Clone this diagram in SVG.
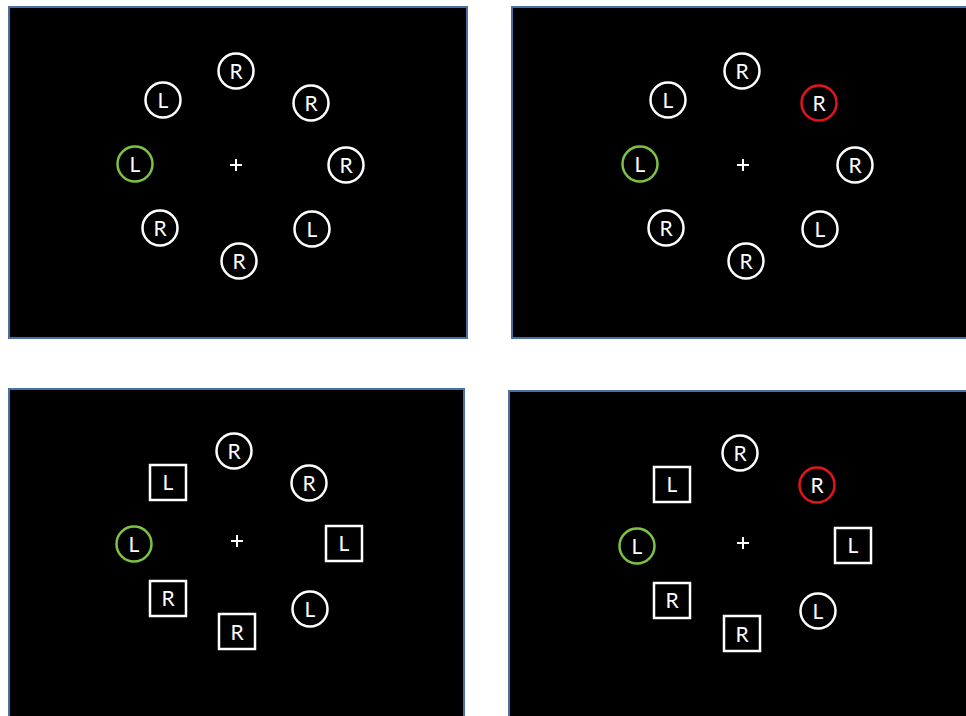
<svg xmlns="http://www.w3.org/2000/svg" width="966" height="716" viewBox="0 0 966 716">
<style>
.panel{fill:#000;stroke:#4a6fa5;stroke-width:2}
.c{fill:none;stroke:#fff;stroke-width:2.5}
.g{stroke:#7dc242}
.r{stroke:#e3141b}
.t{fill:#fff;font-family:Lato,"Open Sans",sans-serif;font-size:21px;text-anchor:middle}
.p{stroke:#fff;stroke-width:2}
</style>
<rect width="966" height="716" fill="#fff"/>
<g id="panel1">
<rect class="panel" x="9" y="7" width="458" height="331"/>
<g id="p1-n1"><circle class="c" cx="236" cy="71" r="17.5"/><text class="t" x="236" y="78.5">R</text></g>
<g id="p1-n2"><circle class="c" cx="163" cy="100" r="17.5"/><text class="t" x="163" y="107.5">L</text></g>
<g id="p1-n3"><circle class="c" cx="311" cy="103" r="17.5"/><text class="t" x="311" y="110.5">R</text></g>
<g id="p1-n4"><circle class="c g" cx="135" cy="164" r="17.5"/><text class="t" x="135" y="171.5">L</text></g>
<g id="p1-plus"><path class="p" d="M230 165h12M236 159v12"/></g>
<g id="p1-n5"><circle class="c" cx="346" cy="165" r="17.5"/><text class="t" x="346" y="172.5">R</text></g>
<g id="p1-n6"><circle class="c" cx="160" cy="228" r="17.5"/><text class="t" x="160" y="235.5">R</text></g>
<g id="p1-n7"><circle class="c" cx="312" cy="229" r="17.5"/><text class="t" x="312" y="236.5">L</text></g>
<g id="p1-n8"><circle class="c" cx="239" cy="261" r="17.5"/><text class="t" x="239" y="268.5">R</text></g>
</g>
<g id="panel2">
<rect class="panel" x="512" y="7" width="470" height="331"/>
<g id="p2-n1"><circle class="c" cx="742" cy="71" r="17.5"/><text class="t" x="742" y="78.5">R</text></g>
<g id="p2-n2"><circle class="c" cx="668" cy="100" r="17.5"/><text class="t" x="668" y="107.5">L</text></g>
<g id="p2-n3"><circle class="c r" cx="819" cy="103" r="17.5"/><text class="t" x="819" y="110.5">R</text></g>
<g id="p2-n4"><circle class="c g" cx="640" cy="164" r="17.5"/><text class="t" x="640" y="171.5">L</text></g>
<g id="p2-plus"><path class="p" d="M737 165h12M743 159v12"/></g>
<g id="p2-n5"><circle class="c" cx="855" cy="165" r="17.5"/><text class="t" x="855" y="172.5">R</text></g>
<g id="p2-n6"><circle class="c" cx="666" cy="228" r="17.5"/><text class="t" x="666" y="235.5">R</text></g>
<g id="p2-n7"><circle class="c" cx="820" cy="229" r="17.5"/><text class="t" x="820" y="236.5">L</text></g>
<g id="p2-n8"><circle class="c" cx="746" cy="261" r="17.5"/><text class="t" x="746" y="268.5">R</text></g>
</g>
<g id="panel3">
<rect class="panel" x="9" y="389" width="455" height="340"/>
<g id="p3-n1"><circle class="c" cx="234" cy="451" r="17.5"/><text class="t" x="234" y="458.5">R</text></g>
<g id="p3-n2"><rect class="c" x="150" y="465" width="36" height="35"/><text class="t" x="168" y="490">L</text></g>
<g id="p3-n3"><circle class="c" cx="309" cy="483" r="17.5"/><text class="t" x="309" y="490.5">R</text></g>
<g id="p3-n4"><circle class="c g" cx="134" cy="544" r="17.5"/><text class="t" x="134" y="551.5">L</text></g>
<g id="p3-plus"><path class="p" d="M231 541h12M237 535v12"/></g>
<g id="p3-n5"><rect class="c" x="326" y="526" width="36" height="35"/><text class="t" x="344" y="551">L</text></g>
<g id="p3-n6"><rect class="c" x="150" y="581" width="36" height="35"/><text class="t" x="168" y="606">R</text></g>
<g id="p3-n7"><circle class="c" cx="310" cy="609" r="17.5"/><text class="t" x="310" y="616.5">L</text></g>
<g id="p3-n8"><rect class="c" x="219" y="614" width="36" height="35"/><text class="t" x="237" y="639.5">R</text></g>
</g>
<g id="panel4">
<rect class="panel" x="509" y="391" width="470" height="340"/>
<g id="p4-n1"><circle class="c" cx="740" cy="453" r="17.5"/><text class="t" x="740" y="460.5">R</text></g>
<g id="p4-n2"><rect class="c" x="654" y="467" width="36" height="35"/><text class="t" x="672" y="492">L</text></g>
<g id="p4-n3"><circle class="c r" cx="817" cy="485" r="17.5"/><text class="t" x="817" y="492.5">R</text></g>
<g id="p4-n4"><circle class="c g" cx="637" cy="546" r="17.5"/><text class="t" x="637" y="553.5">L</text></g>
<g id="p4-plus"><path class="p" d="M737 543h12M743 537v12"/></g>
<g id="p4-n5"><rect class="c" x="835" y="528" width="36" height="35"/><text class="t" x="853" y="553">L</text></g>
<g id="p4-n6"><rect class="c" x="654" y="583" width="36" height="35"/><text class="t" x="672" y="608">R</text></g>
<g id="p4-n7"><circle class="c" cx="818" cy="611" r="17.5"/><text class="t" x="818" y="618.5">L</text></g>
<g id="p4-n8"><rect class="c" x="724" y="616" width="36" height="35"/><text class="t" x="742" y="641.5">R</text></g>
</g>
<g id="connectors"/>
</svg>
